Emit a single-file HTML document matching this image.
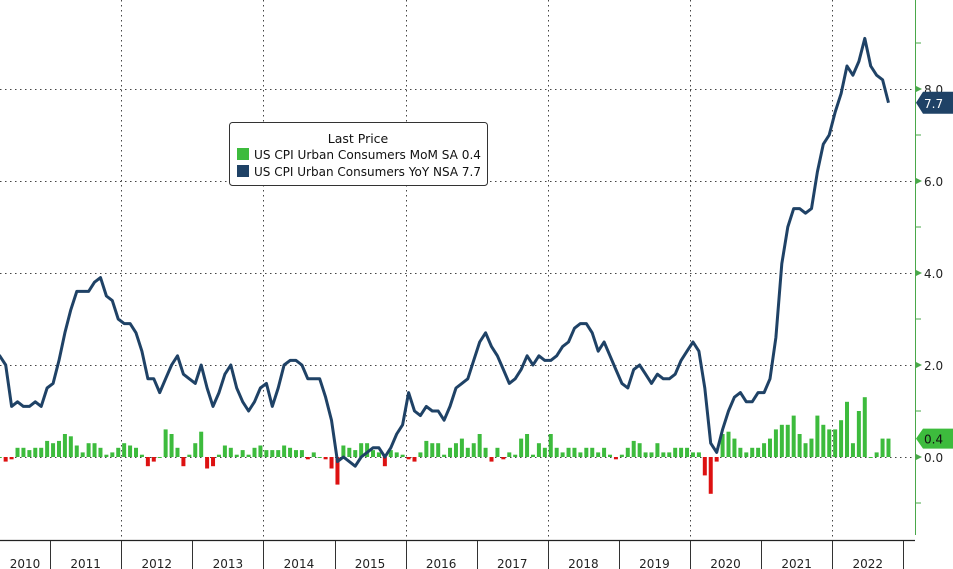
<!DOCTYPE html>
<html><head><meta charset="utf-8"><style>
body{margin:0;background:#fff;}
svg{display:block;font-family:"DejaVu Sans","Liberation Sans",sans-serif;}
</style></head><body>
<svg id="chart" width="953" height="569" viewBox="0 0 953 569">
<g id="grid"></g>
<g id="bars"></g>
<g id="line"></g>
<g id="axes"></g>
<g>
<rect x="229.5" y="122.5" width="258" height="63" rx="3" fill="#fff" stroke="#333" stroke-width="1"/>
<text x="358" y="143" font-size="12.5" text-anchor="middle" fill="#111">Last Price</text>
<rect x="237" y="148" width="12" height="12" fill="#3dbb3d"/>
<text x="254" y="159" font-size="12" fill="#111" textLength="227" lengthAdjust="spacingAndGlyphs">US CPI Urban Consumers MoM SA  0.4</text>
<rect x="237" y="165" width="12" height="12" fill="#1f4266"/>
<text x="254" y="176" font-size="12" fill="#111" textLength="227" lengthAdjust="spacingAndGlyphs">US CPI Urban Consumers YoY NSA 7.7</text>
</g>
</svg>
<script>
const years=[2010,2011,2012,2013,2014,2015,2016,2017,2018,2019,2020,2021,2022];
const yTicks=[0,2,4,6,8];
const yoy=[2.6,2.1,2.3,2.2,2.0,1.1,1.2,1.1,1.1,1.2,1.1,1.5,
1.6,2.1,2.7,3.2,3.6,3.6,3.6,3.8,3.9,3.5,3.4,3.0,
2.9,2.9,2.7,2.3,1.7,1.7,1.4,1.7,2.0,2.2,1.8,1.7,
1.6,2.0,1.5,1.1,1.4,1.8,2.0,1.5,1.2,1.0,1.2,1.5,
1.6,1.1,1.5,2.0,2.1,2.1,2.0,1.7,1.7,1.7,1.3,0.8,
-0.1,0.0,-0.1,-0.2,0.0,0.1,0.2,0.2,0.0,0.2,0.5,0.7,
1.4,1.0,0.9,1.1,1.0,1.0,0.8,1.1,1.5,1.6,1.7,2.1,
2.5,2.7,2.4,2.2,1.9,1.6,1.7,1.9,2.2,2.0,2.2,2.1,
2.1,2.2,2.4,2.5,2.8,2.9,2.9,2.7,2.3,2.5,2.2,1.9,
1.6,1.5,1.9,2.0,1.8,1.6,1.8,1.7,1.7,1.8,2.1,2.3,
2.5,2.3,1.5,0.3,0.1,0.6,1.0,1.3,1.4,1.2,1.2,1.4,
1.4,1.7,2.6,4.2,5.0,5.4,5.4,5.3,5.4,6.2,6.8,7.0,
7.5,7.9,8.5,8.3,8.6,9.1,8.5,8.3,8.2,7.7];
const mom=[0.2,-0.05,-0.05,0.0,-0.1,-0.05,0.2,0.2,0.15,0.2,0.2,0.35,
0.3,0.35,0.5,0.45,0.25,0.1,0.3,0.3,0.2,0.05,0.1,0.2,
0.3,0.25,0.2,0.05,-0.2,-0.1,0.0,0.6,0.5,0.2,-0.2,0.05,
0.3,0.55,-0.25,-0.2,0.05,0.25,0.2,0.05,0.15,0.05,0.2,0.25,
0.15,0.15,0.15,0.25,0.2,0.15,0.15,-0.05,0.1,0.0,-0.05,-0.25,
-0.6,0.25,0.2,0.15,0.3,0.3,0.15,0.1,-0.2,0.15,0.1,0.05,
-0.05,-0.1,0.1,0.35,0.3,0.3,0.05,0.2,0.3,0.4,0.2,0.3,
0.5,0.2,-0.1,0.2,-0.05,0.1,0.05,0.4,0.5,0.05,0.3,0.2,
0.5,0.2,0.1,0.2,0.2,0.1,0.2,0.2,0.1,0.2,0.05,-0.05,
0.05,0.2,0.35,0.3,0.1,0.1,0.3,0.1,0.1,0.2,0.2,0.2,
0.1,0.1,-0.4,-0.8,-0.1,0.5,0.55,0.4,0.2,0.1,0.2,0.2,
0.3,0.4,0.6,0.7,0.7,0.9,0.5,0.3,0.4,0.9,0.7,0.6,
0.6,0.8,1.2,0.3,1.0,1.3,0.0,0.1,0.4,0.4];
const NS="http://www.w3.org/2000/svg";
const X0=-21, YW=71.1, MW=YW/12;
function xm(i){return X0+(i+0.5)*MW;}
function yv(v){return 457-v*46;}
function mk(tag,attrs,parent){const e=document.createElementNS(NS,tag);for(const k in attrs)e.setAttribute(k,attrs[k]);parent.appendChild(e);return e;}
const grid=document.getElementById('grid');
yTicks.forEach(t=>{
 const l=mk('line',{x1:0,x2:915,y1:yv(t)+0.5,y2:yv(t)+0.5,stroke:'#444','stroke-dasharray':'1.5,3.5','stroke-width':1},grid);
 
 
});
years.forEach((y,k)=>{if(k>0&&k%2===0){
 const x=Math.round(X0+k*YW)+0.5;
 const l=mk('line',{x1:x,x2:x,y1:0,y2:541,stroke:'#444','stroke-dasharray':'1.5,3.5','stroke-width':1},grid);
 
 
}});
const bars=document.getElementById('bars');
mom.forEach((v,i)=>{
 const y0=yv(0),y1=yv(v);
 const r=mk('rect',{x:xm(i)-2,y:Math.min(y0,y1),width:4,height:Math.max(1,Math.abs(y1-y0)),fill:v<0?'#dd1111':'#3dbb3d'},bars);
 
 
});
const line=document.getElementById('line');
const p=mk('path',{d:yoy.map((v,i)=>(i?'L':'M')+xm(i).toFixed(1)+','+yv(v).toFixed(1)).join(''),fill:'none',stroke:'#1f4266','stroke-width':3,'stroke-linejoin':'round'},line);


const axes=document.getElementById('axes');
mk('line',{x1:915.5,x2:915.5,y1:0,y2:535,stroke:'#4aa84a','stroke-width':1},axes);
mk('line',{x1:0,x2:915,y1:540.5,y2:540.5,stroke:'#222','stroke-width':1.2},axes);
for(let t=-1;t<=9;t++){
 const y=yv(t);
 if(t%2===0){mk('path',{d:`M916,${y-3}L922,${y}L916,${y+3}Z`,fill:'#4aa84a'},axes);
  const tx=mk('text',{x:924,y:y+5,'font-size':12,fill:'#222'},axes);tx.textContent=t.toFixed(1);
  
  }
 else mk('line',{x1:916,x2:921,y1:y,y2:y,stroke:'#4aa84a'},axes);
}
years.forEach((y,k)=>{
 const x=Math.round(X0+(k+1)*YW)+0.5;
 mk('line',{x1:x,x2:x,y1:541,y2:569,stroke:'#333'},axes);
 const a=Math.max(0,X0+k*YW), b=X0+(k+1)*YW;
 const tx=mk('text',{x:(a+b)/2,y:568,'font-size':12,'text-anchor':'middle',fill:'#222'},axes);
 tx.textContent=y;
 
 
});
const lastY=yoy[yoy.length-1], lastM=mom[mom.length-1];
const t1=mk('path',{d:`M916,${yv(lastY)}L923,${yv(lastY)-11}L953,${yv(lastY)-11}L953,${yv(lastY)+11}L923,${yv(lastY)+11}Z`,fill:'#1f4266'},axes);


const tt1=mk('text',{x:924,y:yv(lastY)+5,'font-size':12,fill:'#fff'},axes);tt1.textContent=lastY.toFixed(1);
const t2=mk('path',{d:`M916,${yv(lastM)}L923,${yv(lastM)-10}L953,${yv(lastM)-10}L953,${yv(lastM)+10}L923,${yv(lastM)+10}Z`,fill:'#3dbb3d'},axes);


const tt2=mk('text',{x:924,y:yv(lastM)+5,'font-size':12,fill:'#111'},axes);tt2.textContent=lastM.toFixed(1);
</script>
</body></html>
